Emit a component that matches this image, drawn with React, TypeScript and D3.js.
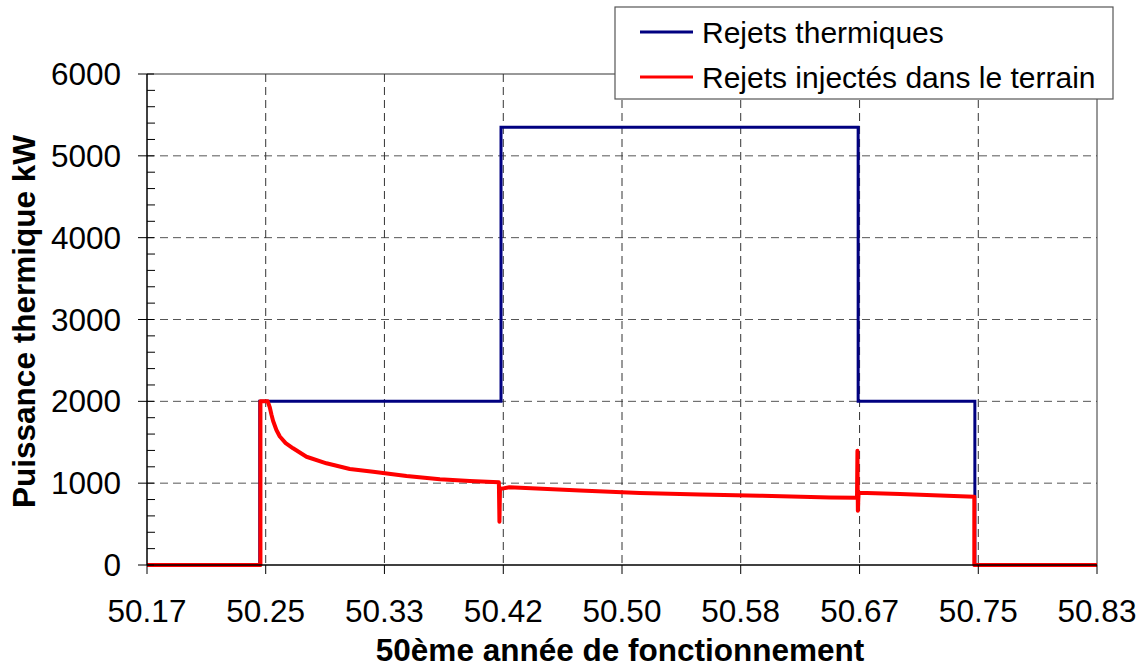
import React from "react";
import * as d3 from "d3";

// x tick values (years) and their labels
const xTicks = [50.1667, 50.25, 50.3333, 50.4167, 50.5, 50.5833, 50.6667, 50.75, 50.8333];
const xTickLabels = ["50.17", "50.25", "50.33", "50.42", "50.50", "50.58", "50.67", "50.75", "50.83"];
const yTicks = [0, 1000, 2000, 3000, 4000, 5000, 6000];

// Rejets thermiques (step profile)
const thermTime = [50.1667, 50.2458, 50.2458, 50.4151, 50.4151, 50.6657, 50.6657, 50.7476, 50.7476, 50.8333];
const thermValue = [0, 0, 2000, 2000, 5350, 5350, 2000, 2000, 0, 0];

// Rejets injectés dans le terrain
const soilTime = [
  50.1667, 50.2463, 50.2463, 50.2514, 50.2528, 50.254, 50.2552, 50.2575, 50.2599, 50.264, 50.2692,
  50.2786, 50.2926, 50.309, 50.3254, 50.3488, 50.3722, 50.3932, 50.4136, 50.414, 50.4144, 50.415,
  50.421, 50.4705, 50.5126, 50.5547, 50.5968, 50.646, 50.6649, 50.6652, 50.6655, 50.666, 50.6951,
  50.7232, 50.7472, 50.7472, 50.8333,
];
const soilValue = [
  0, 0, 2000, 2000, 1930, 1840, 1760, 1650, 1570, 1490, 1426,
  1323, 1243, 1173, 1140, 1088, 1047, 1025, 1010, 529, 940, 930,
  950, 910, 880, 860, 847, 825, 822, 1397, 664, 884, 868,
  850, 835, 0, 0,
];

const seriesNames = ["Rejets thermiques", "Rejets injectés dans le terrain"];
const seriesColors = ["#000080", "#ff0000"];

const W = 1145;
const H = 668;
const left = 147;
const right = 1097;
const top = 74;
const bottom = 565;
const font = "'Liberation Sans', Arial, sans-serif";
const fs = 31.5;

export default function App() {
  const x = d3.scaleLinear().domain([50.1667, 50.8333]).range([left, right]);
  const y = d3.scaleLinear().domain([0, 6000]).range([bottom, top]);

  const line = d3
    .line<[number, number]>()
    .x(d => x(d[0]))
    .y(d => y(d[1]));

  const thermPts = thermTime.map((t, i) => [t, thermValue[i]] as [number, number]);
  const soilPts = soilTime.map((t, i) => [t, soilValue[i]] as [number, number]);
  const minorTicks = d3.range(200, 6000, 200).filter(v => v % 1000 !== 0);

  return (
    <svg width={W} height={H} style={{ position: "absolute", left: 0, top: 0, background: "#fff" }}>
      {/* grid */}
      {yTicks.slice(1, -1).map(v => (
        <line key={"gy" + v} x1={left} x2={right} y1={y(v)} y2={y(v)} stroke="#555" strokeDasharray="8,5" />
      ))}
      {xTicks.slice(1, -1).map(v => (
        <line key={"gx" + v} x1={x(v)} x2={x(v)} y1={top} y2={bottom} stroke="#333" strokeDasharray="8,5" />
      ))}

      {/* frame */}
      <line x1={left} x2={right} y1={top} y2={top} stroke="#333" />
      <line x1={right} x2={right} y1={top} y2={bottom} stroke="#333" />

      {/* series */}
      <path d={line(thermPts) ?? ""} fill="none" stroke={seriesColors[0]} strokeWidth={3} />
      <path d={line(soilPts) ?? ""} fill="none" stroke={seriesColors[1]} strokeWidth={4} strokeLinejoin="round" />

      {/* axes */}
      <line x1={left} x2={left} y1={top} y2={bottom} stroke="#000" strokeWidth={1.5} />
      <line x1={left} x2={right} y1={bottom} y2={bottom} stroke="#000" strokeWidth={1.5} />
      {yTicks.map(v => (
        <g key={"yt" + v}>
          <line x1={left - 9} x2={left + 7} y1={y(v)} y2={y(v)} stroke="#000" />
          <text x={121} y={y(v) + 11} textAnchor="end" fontFamily={font} fontSize={fs} fill="#000">
            {v}
          </text>
        </g>
      ))}
      {minorTicks.map(v => (
        <line key={"ym" + v} x1={left} x2={left + 8} y1={y(v)} y2={y(v)} stroke="#000" />
      ))}
      {xTicks.map((v, i) => (
        <g key={"xt" + v}>
          <line x1={x(v)} x2={x(v)} y1={bottom} y2={bottom + 9} stroke="#000" />
          <text x={x(v)} y={622} textAnchor="middle" fontFamily={font} fontSize={fs} fill="#000">
            {xTickLabels[i]}
          </text>
        </g>
      ))}

      {/* axis titles */}
      <text x={620} y={661} textAnchor="middle" fontFamily={font} fontSize={fs} fontWeight="bold" fill="#000">
        50ème année de fonctionnement
      </text>
      <text
        transform={`translate(35,${(top + bottom) / 2 + 2}) rotate(-90)`}
        textAnchor="middle"
        fontFamily={font}
        fontSize={fs}
        fontWeight="bold"
        fill="#000"
      >
        Puissance thermique kW
      </text>

      {/* legend */}
      <rect x={615} y={7} width={498} height={92} fill="#fff" stroke="#555" strokeWidth={1.2} />
      {seriesNames.map((name, i) => (
        <g key={name}>
          <line x1={640} x2={693} y1={32 + i * 45} y2={32 + i * 45} stroke={seriesColors[i]} strokeWidth={3} />
          <text x={702} y={43 + i * 45} fontFamily={font} fontSize={30} fill="#000">
            {name}
          </text>
        </g>
      ))}
    </svg>
  );
}
